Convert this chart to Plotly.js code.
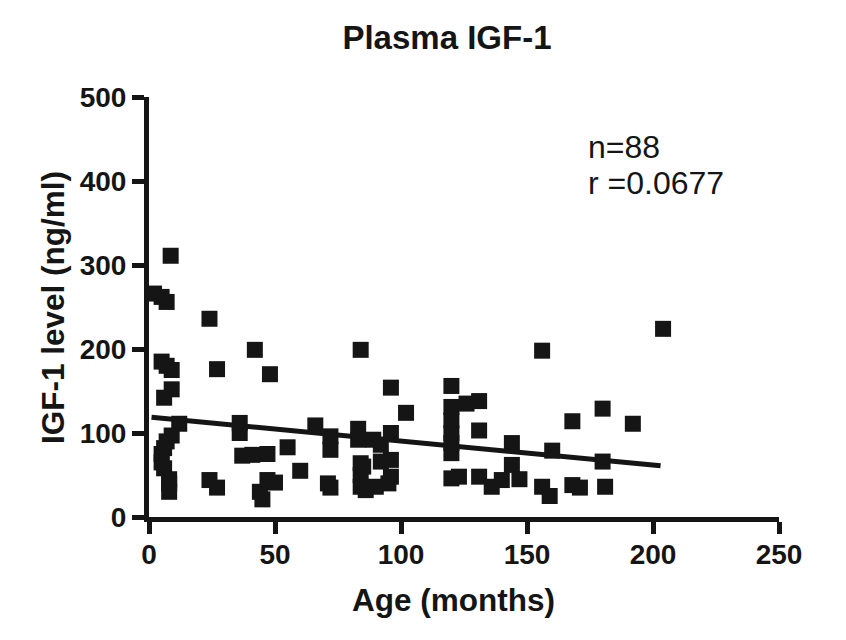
<!DOCTYPE html>
<html>
<head>
<meta charset="utf-8">
<script src="https://cdn.plot.ly/plotly-3.0.1.min.js"></script>
<style>html,body{margin:0;padding:0;background:#fff;}#chart{width:846px;height:640px;}</style>
</head>
<body>
<div id="chart"></div>
<script>
// Age (months) of each subject
const ageMonths = [
  8.6, 2, 5, 7, 24, 5, 7, 9, 27, 9,
  6, 12, 9, 7, 6, 5, 5, 6, 8, 8,
  8, 36, 36, 37, 24, 27, 42, 48, 41, 47,
  55, 60, 47, 50, 44, 45, 66, 72, 72, 71,
  72, 84, 83, 83, 84, 84, 84, 96, 102, 89,
  96, 92, 96, 96, 92, 90, 86, 85, 120, 120,
  126, 131, 120, 120, 120, 120, 123, 131, 131, 156,
  144, 144, 160, 168, 136, 140, 147, 156, 159, 168,
  171, 204, 180, 192, 180, 181, 120, 95
];
// Plasma IGF-1 level (ng/ml)
const igf1Level = [
  311, 266, 262, 256, 236, 185, 180, 175, 176, 152,
  142, 111, 97, 90, 82, 75, 65, 58, 45, 40,
  30, 112, 100, 73, 44, 35, 199, 170, 74, 75,
  83, 55, 44, 41, 30, 21, 109, 96, 80, 40,
  35, 199, 105, 92, 64, 50, 36, 154, 124, 92,
  100, 86, 68, 48, 66, 36, 32, 60, 156, 131,
  135, 138, 115, 100, 76, 46, 48, 103, 48, 198,
  88, 62, 79, 114, 36, 44, 45, 36, 25, 38,
  35, 224, 129, 111, 66, 36, 88, 40
];
// Regression line end points
const fitX = [1, 203];
const fitY = [118.7, 61];

const xTicks = [0, 50, 100, 150, 200, 250];
const yTicks = [0, 100, 200, 300, 400, 500];

const chartTitle = 'Plasma IGF-1';
const xTitle = 'Age (months)';
const yTitle = 'IGF-1 level (ng/ml)';
const statLines = ['n=88', 'r =0.0677'];

const ink = '#151515';
const fontFam = '"Liberation Sans", Arial, Helvetica, sans-serif';

const traces = [
  {
    x: ageMonths, y: igf1Level, type: 'scatter', mode: 'markers',
    marker: {symbol: 'square', size: 16, color: ink, line: {width: 0}},
    cliponaxis: false, hoverinfo: 'x+y'
  },
  {
    x: fitX, y: fitY, type: 'scatter', mode: 'lines',
    line: {color: ink, width: 5}, cliponaxis: false, hoverinfo: 'skip'
  }
];

const axisCommon = {
  showgrid: false, zeroline: false, showline: true,
  linecolor: ink, linewidth: 5,
  ticks: 'outside', ticklen: 12, tickwidth: 5, tickcolor: ink,
  tickfont: {family: fontFam, size: 28, color: ink, weight: 'bold'},
  fixedrange: true
};

const layout = {
  width: 846, height: 640,
  margin: {l: 149, r: 67, t: 97, b: 123},
  paper_bgcolor: '#fff', plot_bgcolor: '#fff',
  showlegend: false,
  font: {family: fontFam, color: ink},
  title: {
    text: chartTitle, x: 0.473, xanchor: 'center', y: 0.942, yanchor: 'middle',
    yref: 'container', xref: 'paper',
    font: {family: fontFam, size: 33, color: ink, weight: 'bold'}
  },
  xaxis: Object.assign({}, axisCommon, {
    range: [0, 250], tickvals: xTicks, ticktext: xTicks.map(String),
    ticklabelstandoff: -4
  }),
  yaxis: Object.assign({}, axisCommon, {
    range: [0, 500], tickvals: yTicks, ticktext: yTicks.map(String)
  }),
  annotations: [
    {
      text: xTitle, xref: 'paper', yref: 'paper', x: 0.484, y: -0.198,
      xanchor: 'center', yanchor: 'middle', showarrow: false,
      font: {family: fontFam, size: 31.5, color: ink, weight: 'bold'}
    },
    {
      text: yTitle, xref: 'paper', yref: 'paper', x: -0.152, y: 0.498,
      xanchor: 'center', yanchor: 'middle', showarrow: false, textangle: -90,
      font: {family: fontFam, size: 31.5, color: ink, weight: 'bold'}
    },
    {
      text: statLines[0], xref: 'x', yref: 'y', x: 173.5, y: 440,
      xanchor: 'left', yanchor: 'middle', align: 'left', showarrow: false,
      font: {family: fontFam, size: 32, color: ink}
    },
    {
      text: statLines[1], xref: 'x', yref: 'y', x: 173.5, y: 398,
      xanchor: 'left', yanchor: 'middle', align: 'left', showarrow: false,
      font: {family: fontFam, size: 32, color: ink}
    }
  ]
};

Plotly.newPlot('chart', traces, layout, {displayModeBar: false, staticPlot: true});
</script>
</body>
</html>
